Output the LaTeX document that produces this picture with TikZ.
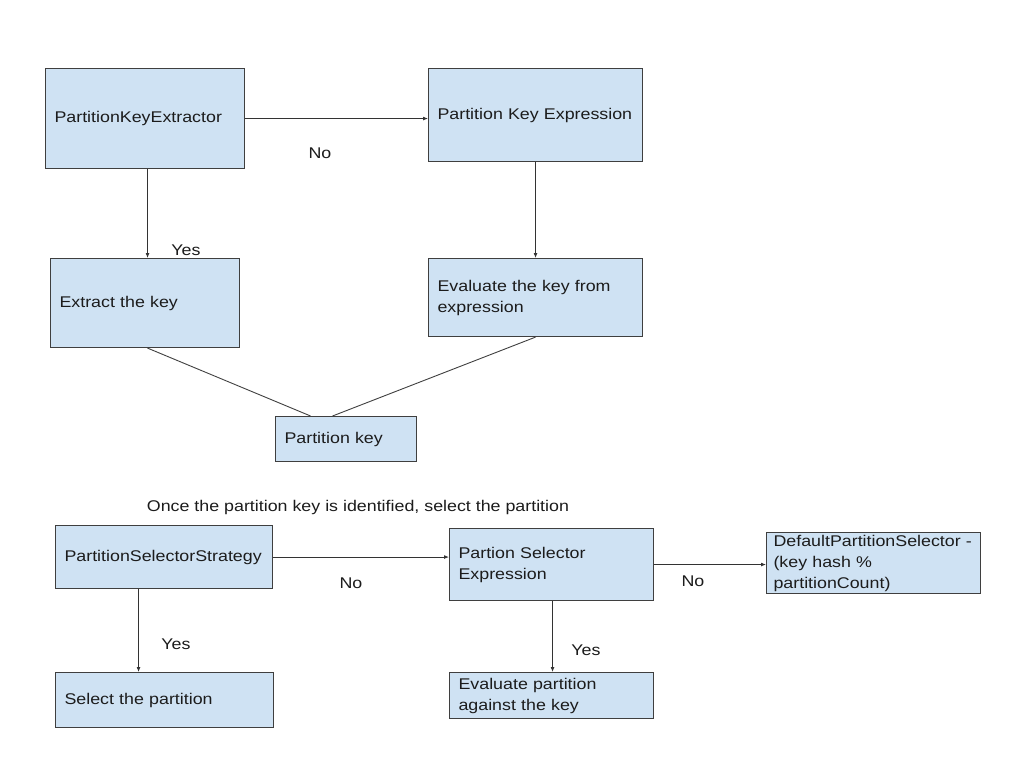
\documentclass[tikz,border=0pt]{standalone}
\usepackage{fontspec}
\setmainfont[FakeStretch=1.15]{Liberation Sans}
\usetikzlibrary{arrows.meta}
\definecolor{boxfill}{HTML}{CFE2F3}
\definecolor{boxline}{HTML}{3F3F3F}
\definecolor{txt}{HTML}{1C1C1C}
\begin{document}
\begin{tikzpicture}[x=1pt,y=-1pt,
  every node/.style={font=\fontsize{15.5pt}{21pt}\selectfont, text=txt},
  box/.style={draw=boxline, line width=1.1pt, fill=boxfill, anchor=north west,
    inner xsep=9pt, inner ysep=0pt, align=left},
  lbl/.style={inner sep=0pt},
  arr/.style={draw=black!80, line width=0.9pt, -{Latex[length=5pt,width=4pt]}},
  ln/.style={draw=black!75, line width=0.9pt}]
\useasboundingbox[fill=white] (0,0) rectangle (1036,773);
% top part
\node[box, minimum width=199pt, minimum height=100pt, text width=181pt] (ext) at (45,68) {\strut PartitionKeyExtractor};
\node[box, minimum width=214pt, minimum height=93pt, text width=196pt] (exp) at (428,68) {\strut Partition Key Expression};
\node[box, minimum width=189pt, minimum height=89pt, text width=171pt] (key) at (50,258) {\strut Extract the key};
\node[box, minimum width=214pt, minimum height=78pt, text width=196pt] (eval) at (428,258) {\strut Evaluate the key from\\\strut expression};
\node[box, minimum width=141pt, minimum height=45pt, text width=123pt] (pk) at (275,416) {\strut Partition key};
\draw[arr] (ext.east) -- (ext.east -| exp.west);
\draw[arr] ([xshift=2.5pt]ext.south) -- ([xshift=2.5pt]ext.south |- key.north);
\draw[arr] (exp.south) -- (eval.north);
\draw[ln] ([xshift=2.5pt]key.south) -- ([xshift=-35.5pt]pk.north);
\draw[ln] (eval.south) -- ([xshift=-13.5pt]pk.north);
\node[lbl] (no1) at (320,153) {No};
\node[lbl] (yes1) at (186,250) {Yes};
% caption
\node[lbl] (cap) at (358,507) {Once the partition key is identified, select the partition};
% bottom part
\node[box, minimum width=217pt, minimum height=63pt, text width=199pt] (strat) at (55,525) {\strut PartitionSelectorStrategy};
\node[box, minimum width=204pt, minimum height=72pt, text width=186pt] (sel) at (449,528) {\strut Partion Selector\\\strut Expression};
\node[box, minimum width=214pt, minimum height=61pt, text width=200pt, inner xsep=7pt] (def) at (766,532) {DefaultPartitionSelector -\\(key hash \%\\partitionCount)};
\node[box, minimum width=218pt, minimum height=55pt, text width=200pt] (pick) at (55,672) {\strut Select the partition};
\node[box, minimum width=204pt, minimum height=46pt, text width=186pt] (evp) at (449,672) {\strut Evaluate partition\\\strut against the key};
\draw[arr] (strat.east) -- (strat.east -| sel.west);
\draw[arr] (sel.east) -- (sel.east -| def.west);
\draw[arr] ([xshift=-25.5pt]strat.south) -- ([xshift=-25.5pt]strat.south |- pick.north);
\draw[arr] ([xshift=1pt]sel.south) -- ([xshift=1pt]sel.south |- evp.north);
\node[lbl] (no2) at (351,583) {No};
\node[lbl] (no3) at (693,581) {No};
\node[lbl] (yes2) at (176,644) {Yes};
\node[lbl] (yes3) at (586,650) {Yes};
\end{tikzpicture}
\end{document}
